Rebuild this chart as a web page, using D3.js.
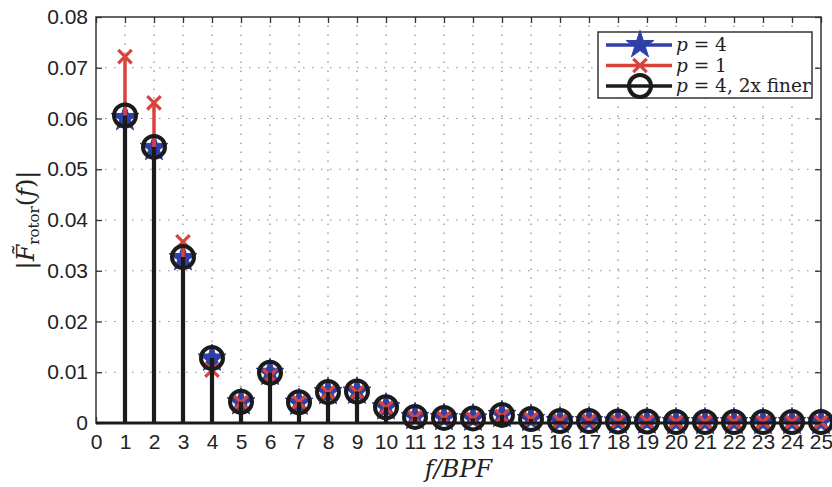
<!DOCTYPE html>
<html>
<head>
<meta charset="utf-8">
<script src="https://cdn.jsdelivr.net/npm/d3@7"></script>
<style>
  body { margin: 0; background: #fff; }
  text { fill: #222; }
</style>
</head>
<body>
<div id="chart"></div>
<script>
// f/BPF harmonics
const harmonics = [1, 2, 3, 4, 5, 6, 7, 8, 9, 10, 11, 12, 13, 14, 15, 16, 17, 18, 19, 20, 21, 22, 23, 24, 25];

// p = 4
const p4 = [0.0601, 0.0542, 0.0325, 0.0127, 0.0041, 0.0099, 0.0040, 0.0061, 0.0062, 0.0031, 0.0012, 0.0010, 0.0009, 0.0016, 0.0008,
  0.0004, 0.0004, 0.0003, 0.0003, 0.0002, 0.0002, 0.0002, 0.0002, 0.0002, 0.0002];
// p = 1
const p1 = [0.0722, 0.0631, 0.0357, 0.0104, 0.0040, 0.0093, 0.0041, 0.0060, 0.0060, 0.0030, 0.0010, 0.0009, 0.0008, 0.0013, 0.0007,
  0.0004, 0.0004, 0.0003, 0.0003, 0.0002, 0.0002, 0.0002, 0.0002, 0.0002, 0.0002];
// p = 4, 2x finer
const p4fine = [0.0606, 0.0544, 0.0327, 0.0128, 0.0042, 0.0099, 0.0041, 0.0061, 0.0062, 0.0031, 0.0012, 0.0010, 0.0009, 0.0016, 0.0008,
  0.0004, 0.0004, 0.0003, 0.0003, 0.0002, 0.0002, 0.0002, 0.0002, 0.0002, 0.0002];

const xTicks = d3.range(0, 26);
const yTicks = [0, 0.01, 0.02, 0.03, 0.04, 0.05, 0.06, 0.07, 0.08];

const width = 832;
const height = 487;
const margin = { top: 17, right: 11, bottom: 64, left: 96 };

const blue = "#2f3fa8";
const red = "#d9433b";
const black = "#1b1b1b";

const svg = d3.select("#chart")
  .append("svg")
  .attr("width", width)
  .attr("height", height);

const xScale = d3.scaleLinear()
  .domain([0, 25])
  .range([margin.left, width - margin.right]);

const yScale = d3.scaleLinear()
  .domain([0, 0.08])
  .range([height - margin.bottom, margin.top]);

const x0 = xScale(0), x1 = xScale(25);
const y0 = yScale(0), y1 = yScale(0.08);

// Grid

svg.append("g")
  .selectAll("line")
  .data(xTicks.slice(1, -1))
  .join("line")
  .attr("x1", (d) => xScale(d))
  .attr("x2", (d) => xScale(d))
  .attr("y1", y0)
  .attr("y2", y1)
  .attr("stroke", "#8a8a8a")
  .attr("stroke-width", 1.2)
  .attr("stroke-dasharray", "1.5,7.5");

svg.append("g")
  .selectAll("line")
  .data(yTicks.slice(1, -1))
  .join("line")
  .attr("x1", x0)
  .attr("x2", x1)
  .attr("y1", (d) => yScale(d))
  .attr("y2", (d) => yScale(d))
  .attr("stroke", "#8a8a8a")
  .attr("stroke-width", 1.2)
  .attr("stroke-dasharray", "1.5,7.5");

// Axes (box with inward ticks)

const tickFont = "'Liberation Sans', Arial, sans-serif";

svg.append("g")
  .attr("transform", `translate(0, ${y0})`)
  .call(d3.axisBottom(xScale).tickValues(xTicks).tickSize(-6).tickPadding(11).tickFormat(d3.format("d")))
  .call((g) => g.select(".domain").remove())
  .call((g) => g.selectAll("text").attr("font-size", 21).attr("font-family", tickFont).attr("fill", "#222"));

svg.append("g")
  .attr("transform", `translate(0, ${y1})`)
  .call(d3.axisTop(xScale).tickValues(xTicks).tickSize(-6).tickFormat(""))
  .call((g) => g.select(".domain").remove());

svg.append("g")
  .attr("transform", `translate(${x0}, 0)`)
  .call(d3.axisLeft(yScale).tickValues(yTicks).tickSize(-6).tickPadding(8).tickFormat((d) => (d === 0 ? "0" : d3.format(".2f")(d))))
  .call((g) => g.select(".domain").remove())
  .call((g) => g.selectAll("text").attr("font-size", 21).attr("font-family", tickFont).attr("fill", "#222"));

svg.append("g")
  .attr("transform", `translate(${x1}, 0)`)
  .call(d3.axisRight(yScale).tickValues(yTicks).tickSize(-6).tickFormat(""))
  .call((g) => g.select(".domain").remove());

svg.selectAll(".tick line").attr("stroke", "#333").attr("stroke-width", 1.3);

svg.append("rect")
  .attr("x", x0)
  .attr("y", y1)
  .attr("width", x1 - x0)
  .attr("height", y0 - y1)
  .attr("fill", "none")
  .attr("stroke", "#333")
  .attr("stroke-width", 1.5);

// Stems

const series = [
  { values: p4, color: blue, marker: "star", stem: 3.5 },
  { values: p1, color: red, marker: "x", stem: 3.5 },
  { values: p4fine, color: black, marker: "circle", stem: 4.2 },
];

const starPath = d3.symbol().type(d3.symbolStar).size(240)();
const xPath = d3.symbol().type(d3.symbolX).size(120)();

function drawMarker(sel, marker) {
  if (marker === "star") {
    sel.append("path").attr("d", starPath).attr("fill", blue).attr("stroke", blue).attr("stroke-width", 1);
  } else if (marker === "x") {
    sel.append("path").attr("d", xPath).attr("fill", "none").attr("stroke", red).attr("stroke-width", 3.2);
  } else {
    sel.append("circle").attr("r", 11).attr("fill", "none").attr("stroke", black).attr("stroke-width", 4);
  }
}

series.forEach((s) => {
  const pts = harmonics.map((h, i) => ({ x: h, y: s.values[i] }));

  svg.append("g")
    .selectAll("line")
    .data(pts)
    .join("line")
    .attr("x1", (d) => xScale(d.x))
    .attr("x2", (d) => xScale(d.x))
    .attr("y1", y0)
    .attr("y2", (d) => yScale(d.y))
    .attr("stroke", s.color)
    .attr("stroke-width", s.stem);

  const marks = svg.append("g")
    .selectAll("g")
    .data(pts)
    .join("g")
    .attr("transform", (d) => `translate(${xScale(d.x)}, ${yScale(d.y)})`);
  drawMarker(marks, s.marker);
});

// Baseline

svg.append("line")
  .attr("x1", x0)
  .attr("x2", x1)
  .attr("y1", y0)
  .attr("y2", y0)
  .attr("stroke", black)
  .attr("stroke-width", 3);

// Axis labels

const mathFont = "'DejaVu Serif', 'Liberation Serif', serif";

svg.append("text")
  .attr("x", (x0 + x1) / 2)
  .attr("y", 477)
  .attr("text-anchor", "middle")
  .attr("font-family", mathFont)
  .attr("font-size", 24)
  .attr("font-style", "italic")
  .text("f/BPF");

const yl = svg.append("text")
  .attr("transform", `translate(34, ${(y0 + y1) / 2}) rotate(-90)`)
  .attr("text-anchor", "middle")
  .attr("font-family", mathFont)
  .attr("font-size", 24);
yl.append("tspan").text("|");
yl.append("tspan").attr("font-style", "italic").text("F\u0303");
yl.append("tspan").attr("font-size", 15).attr("dy", 5).text("rotor");
yl.append("tspan").attr("dy", -5).text("(");
yl.append("tspan").attr("font-style", "italic").text("f");
yl.append("tspan").text(")|");

// Legend

const legendLabels = [["p", " = 4"], ["p", " = 1"], ["p", " = 4, 2x finer"]];

const legend = svg.append("g");
legend.append("rect")
  .attr("x", 598)
  .attr("y", 32)
  .attr("width", 214)
  .attr("height", 66)
  .attr("fill", "#fff")
  .attr("stroke", "#333")
  .attr("stroke-width", 1.5);

series.forEach((s, i) => {
  const ly = 45 + i * 20.5;
  const row = legend.append("g");
  row.append("line")
    .attr("x1", 606)
    .attr("x2", 672)
    .attr("y1", ly)
    .attr("y2", ly)
    .attr("stroke", s.color)
    .attr("stroke-width", 3.5);
  drawMarker(row.append("g").attr("transform", `translate(640, ${ly})`), s.marker);
  const t = row.append("text")
    .attr("x", 676)
    .attr("y", ly + 6)
    .attr("font-family", mathFont)
    .attr("font-size", 18.5);
  t.append("tspan").attr("font-style", "italic").text(legendLabels[i][0]);
  t.append("tspan").text(legendLabels[i][1]);
});
</script>
</body>
</html>
